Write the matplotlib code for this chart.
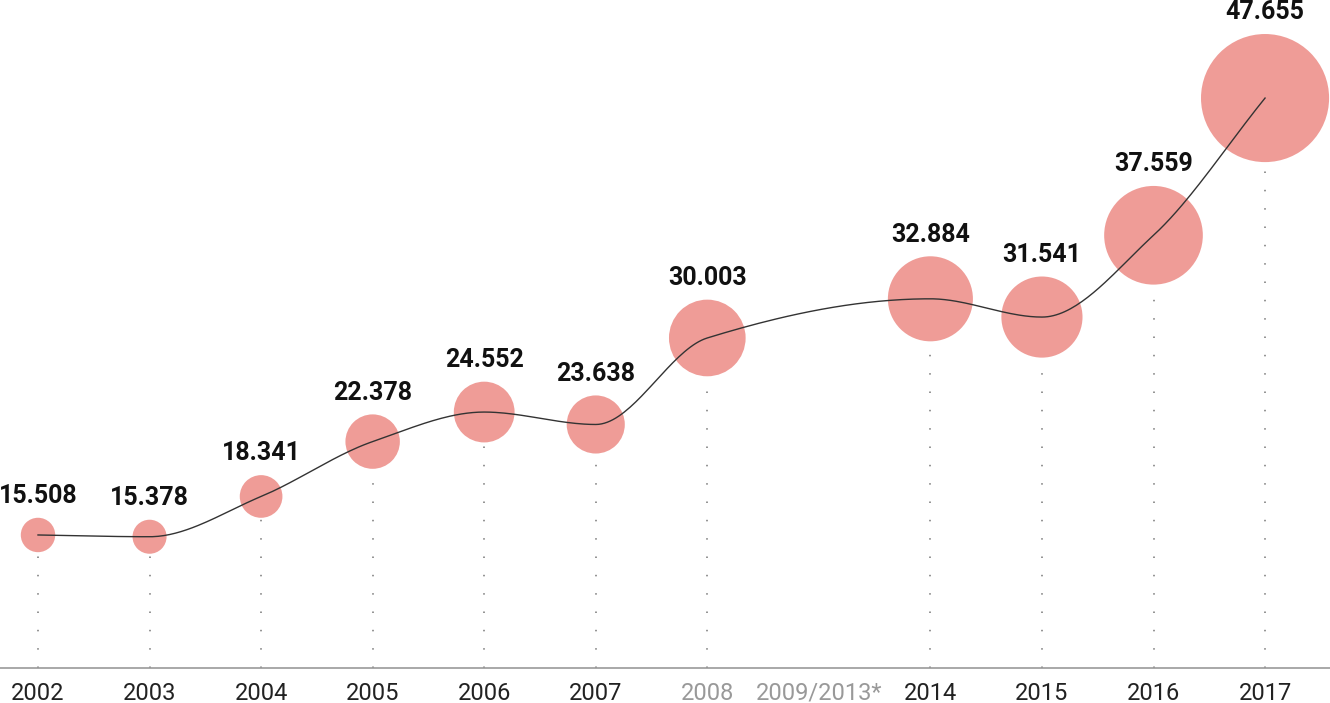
import numpy as np
import matplotlib
matplotlib.use("Agg")
import matplotlib.pyplot as plt

plt.rcParams['font.family'] = ['Roboto', 'DejaVu Sans']

years = ['2002', '2003', '2004', '2005', '2006', '2007', '2008',
         '2009/2013*', '2014', '2015', '2016', '2017']
values = [15.508, 15.378, 18.341, 22.378, 24.552, 23.638, 30.003,
          None, 32.884, 31.541, 37.559, 47.655]
labels = ['15.508', '15.378', '18.341', '22.378', '24.552', '23.638', '30.003',
          None, '32.884', '31.541', '37.559', '47.655']
grey_years = ['2008', '2009/2013*']

bubble_color = '#EF9C97'


def monotone_curve(x, y, n=40):
    # monotone cubic (Fritsch-Carlson), like d3.curveMonotoneX
    x = np.asarray(x, float)
    y = np.asarray(y, float)
    h = np.diff(x)
    d = np.diff(y) / h
    m = np.zeros_like(y)
    m[0], m[-1] = d[0], d[-1]
    for i in range(1, len(y) - 1):
        if d[i - 1] * d[i] <= 0:
            m[i] = 0
        else:
            w1 = 2 * h[i] + h[i - 1]
            w2 = h[i] + 2 * h[i - 1]
            m[i] = (w1 + w2) / (w1 / d[i - 1] + w2 / d[i])
    xs, ys = [], []
    for i in range(len(x) - 1):
        t = np.linspace(0, 1, n)
        h00 = 2 * t**3 - 3 * t**2 + 1
        h10 = t**3 - 2 * t**2 + t
        h01 = -2 * t**3 + 3 * t**2
        h11 = t**3 - t**2
        xs.append(x[i] + t * h[i])
        ys.append(h00 * y[i] + h10 * h[i] * m[i] + h01 * y[i + 1] + h11 * h[i] * m[i + 1])
    return np.concatenate(xs), np.concatenate(ys)


pos = np.arange(len(years))
px = np.array([p for p, v in zip(pos, values) if v is not None])
pv = np.array([v for v in values if v is not None])
plabels = [l for l in labels if l is not None]

ymin, ymax = 5.72, 54.87

fig = plt.figure(figsize=(13.3, 7.03), dpi=100)
ax = fig.add_axes([0, 35 / 703, 1, 668 / 703])
ax.set_xlim(-38 / 111.55, (1330 - 38) / 111.55)
ax.set_ylim(ymin, ymax)

# bubble radius (pixels) grows with the value
radius_px = 1.457 * pv - 5.39
radius_pt = radius_px * 0.72

ax.vlines(px, ymin, pv, colors='#777777', linestyles=(0, (1, 11)), linewidth=1.1, zorder=1)
ax.scatter(px, pv, s=(2 * radius_pt) ** 2, color=bubble_color, edgecolors='none', zorder=2)

cx, cy = monotone_curve(px, pv)
ax.plot(cx, cy, color='#333333', linewidth=1.0, zorder=3)

for x, v, lab, r in zip(px, pv, plabels, radius_pt):
    ax.annotate(lab, (x, v), xytext=(0, r + 7), textcoords='offset points',
                ha='center', va='bottom', fontsize=18, fontweight='bold', color='#111111')

ax.set_xticks(pos)
ax.set_xticklabels(years, fontsize=17)
for t in ax.get_xticklabels():
    t.set_color('#999999' if t.get_text() in grey_years else '#222222')
ax.tick_params(axis='x', length=0, pad=10)
ax.set_yticks([])
for s in ['top', 'left', 'right']:
    ax.spines[s].set_visible(False)
ax.spines['bottom'].set_color('#999999')
ax.spines['bottom'].set_linewidth(1.2)
ax.patch.set_alpha(0)

fig.savefig('out.png', dpi=100)
